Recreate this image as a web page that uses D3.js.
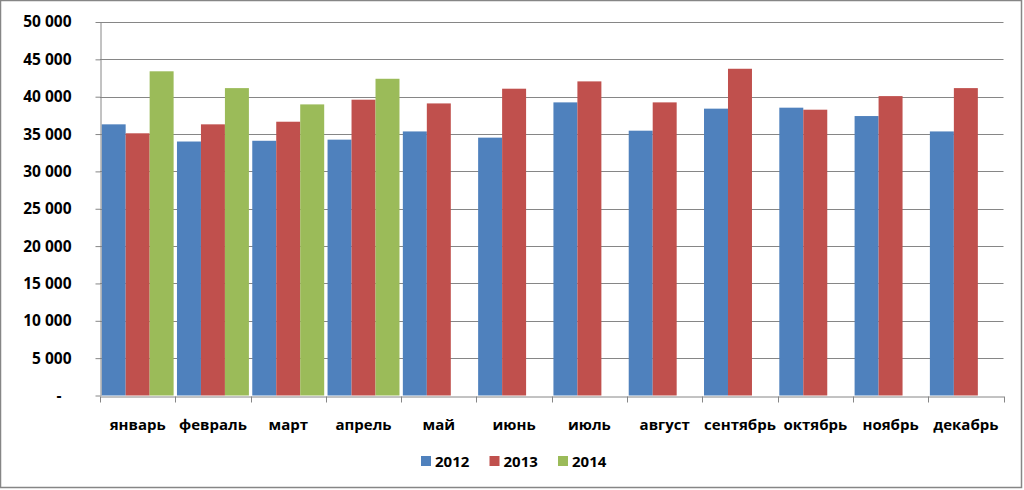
<!DOCTYPE html>
<meta charset="utf-8">
<style>
  body { margin: 0; background: #fff; }
  svg { display: block; }
  .lbl { font-family: "Open Sans", sans-serif; font-weight: bold; font-size: 15px; fill: #000; }
  .ylbl { font-size: 15.5px; }
</style>
<body>
</body>
<script src="https://cdn.jsdelivr.net/npm/d3@7"></script>
<script>
  const months = ['январь', 'февраль', 'март', 'апрель', 'май', 'июнь',
                  'июль', 'август', 'сентябрь', 'октябрь', 'ноябрь', 'декабрь'];
  const years = ['2012', '2013', '2014'];
  const v2012 = [36300, 34000, 34100, 34250, 35350, 34520, 39240, 35450, 38400, 38530, 37410, 35350];
  const v2013 = [35100, 36300, 36650, 39600, 39100, 41070, 42050, 39240, 43740, 38260, 40080, 41150];
  const v2014 = [43400, 41150, 38970, 42400, null, null, null, null, null, null, null, null];
  const yTicks = [0, 5000, 10000, 15000, 20000, 25000, 30000, 35000, 40000, 45000, 50000];
  const colors = ['#4f81bd', '#c0504d', '#9bbb59'];

  const series = [v2012, v2013, v2014];
  const w = 1024, h = 490;
  const l = 100, r = 1003.5, t = 22, b = 395.5;

  const svg = d3.select('body').append('svg')
    .attr('width', w).attr('height', h);

  // outer frame
  svg.append('rect')
    .attr('x', 0.5).attr('y', 0.5).attr('width', w - 3).attr('height', h - 3)
    .attr('fill', '#fff').attr('stroke', '#868686').attr('stroke-width', 1.5);

  const x = d3.scaleBand().domain(months).range([l, r]);
  const x1 = d3.scaleBand().domain(years).range([0, x.bandwidth()])
    .paddingInner(0).paddingOuter(0.07);
  const y = d3.scaleLinear().domain([0, 50000]).range([b, t]);

  // gridlines
  svg.append('g').selectAll('line')
    .data(yTicks.slice(1))
    .join('line')
    .attr('x1', l).attr('x2', r)
    .attr('y1', d => Math.round(y(d)) + 0.5).attr('y2', d => Math.round(y(d)) + 0.5)
    .attr('stroke', '#868686');

  // bars
  const data = [];
  months.forEach((m, i) => series.forEach((s, j) => {
    if (s[i] != null) data.push({m, yr: years[j], v: s[i], c: colors[j]});
  }));
  svg.append('g').selectAll('rect')
    .data(data)
    .join('rect')
    .attr('x', d => x(d.m) + x1(d.yr))
    .attr('width', x1.bandwidth())
    .attr('y', d => y(d.v))
    .attr('height', d => b - y(d.v))
    .attr('fill', d => d.c);

  // y axis
  const yAxis = svg.append('g')
    .attr('transform', `translate(${l + 0.5},0)`)
    .call(d3.axisLeft(y).tickValues(yTicks).tickSize(5).tickSizeOuter(0)
      .tickFormat(d => d === 0 ? '-' : d3.format(',')(d).replace(',', ' ')));
  yAxis.select('.domain').attr('stroke', '#868686');
  yAxis.selectAll('.tick line').attr('stroke', '#868686');
  yAxis.selectAll('.tick text')
    .attr('class', 'lbl ylbl').attr('x', -29)
    .filter(d => d === 0).attr('x', -39);

  // x axis
  const xAxis = svg.append('g')
    .attr('transform', `translate(0,${Math.round(b) + 0.5})`)
    .call(d3.axisBottom(x).tickSize(0).tickSizeOuter(0));
  xAxis.select('.domain').attr('stroke', '#868686');
  xAxis.selectAll('.tick text').attr('class', 'lbl').attr('y', 23);
  xAxis.selectAll('.bnd')
    .data(d3.range(months.length + 1))
    .join('line')
    .attr('x1', i => Math.round(l + i * x.step()) + 0.5)
    .attr('x2', i => Math.round(l + i * x.step()) + 0.5)
    .attr('y1', 0).attr('y2', 6)
    .attr('stroke', '#868686');

  // legend
  const leg = svg.append('g').attr('transform', 'translate(421,456)');
  const item = leg.selectAll('g')
    .data(years)
    .join('g')
    .attr('transform', (d, i) => `translate(${i * 68.5},0)`);
  item.append('rect')
    .attr('width', 10).attr('height', 10)
    .attr('fill', (d, i) => colors[i]);
  item.append('text')
    .attr('class', 'lbl')
    .attr('x', 14).attr('y', 10.5)
    .text(d => d);
</script>
